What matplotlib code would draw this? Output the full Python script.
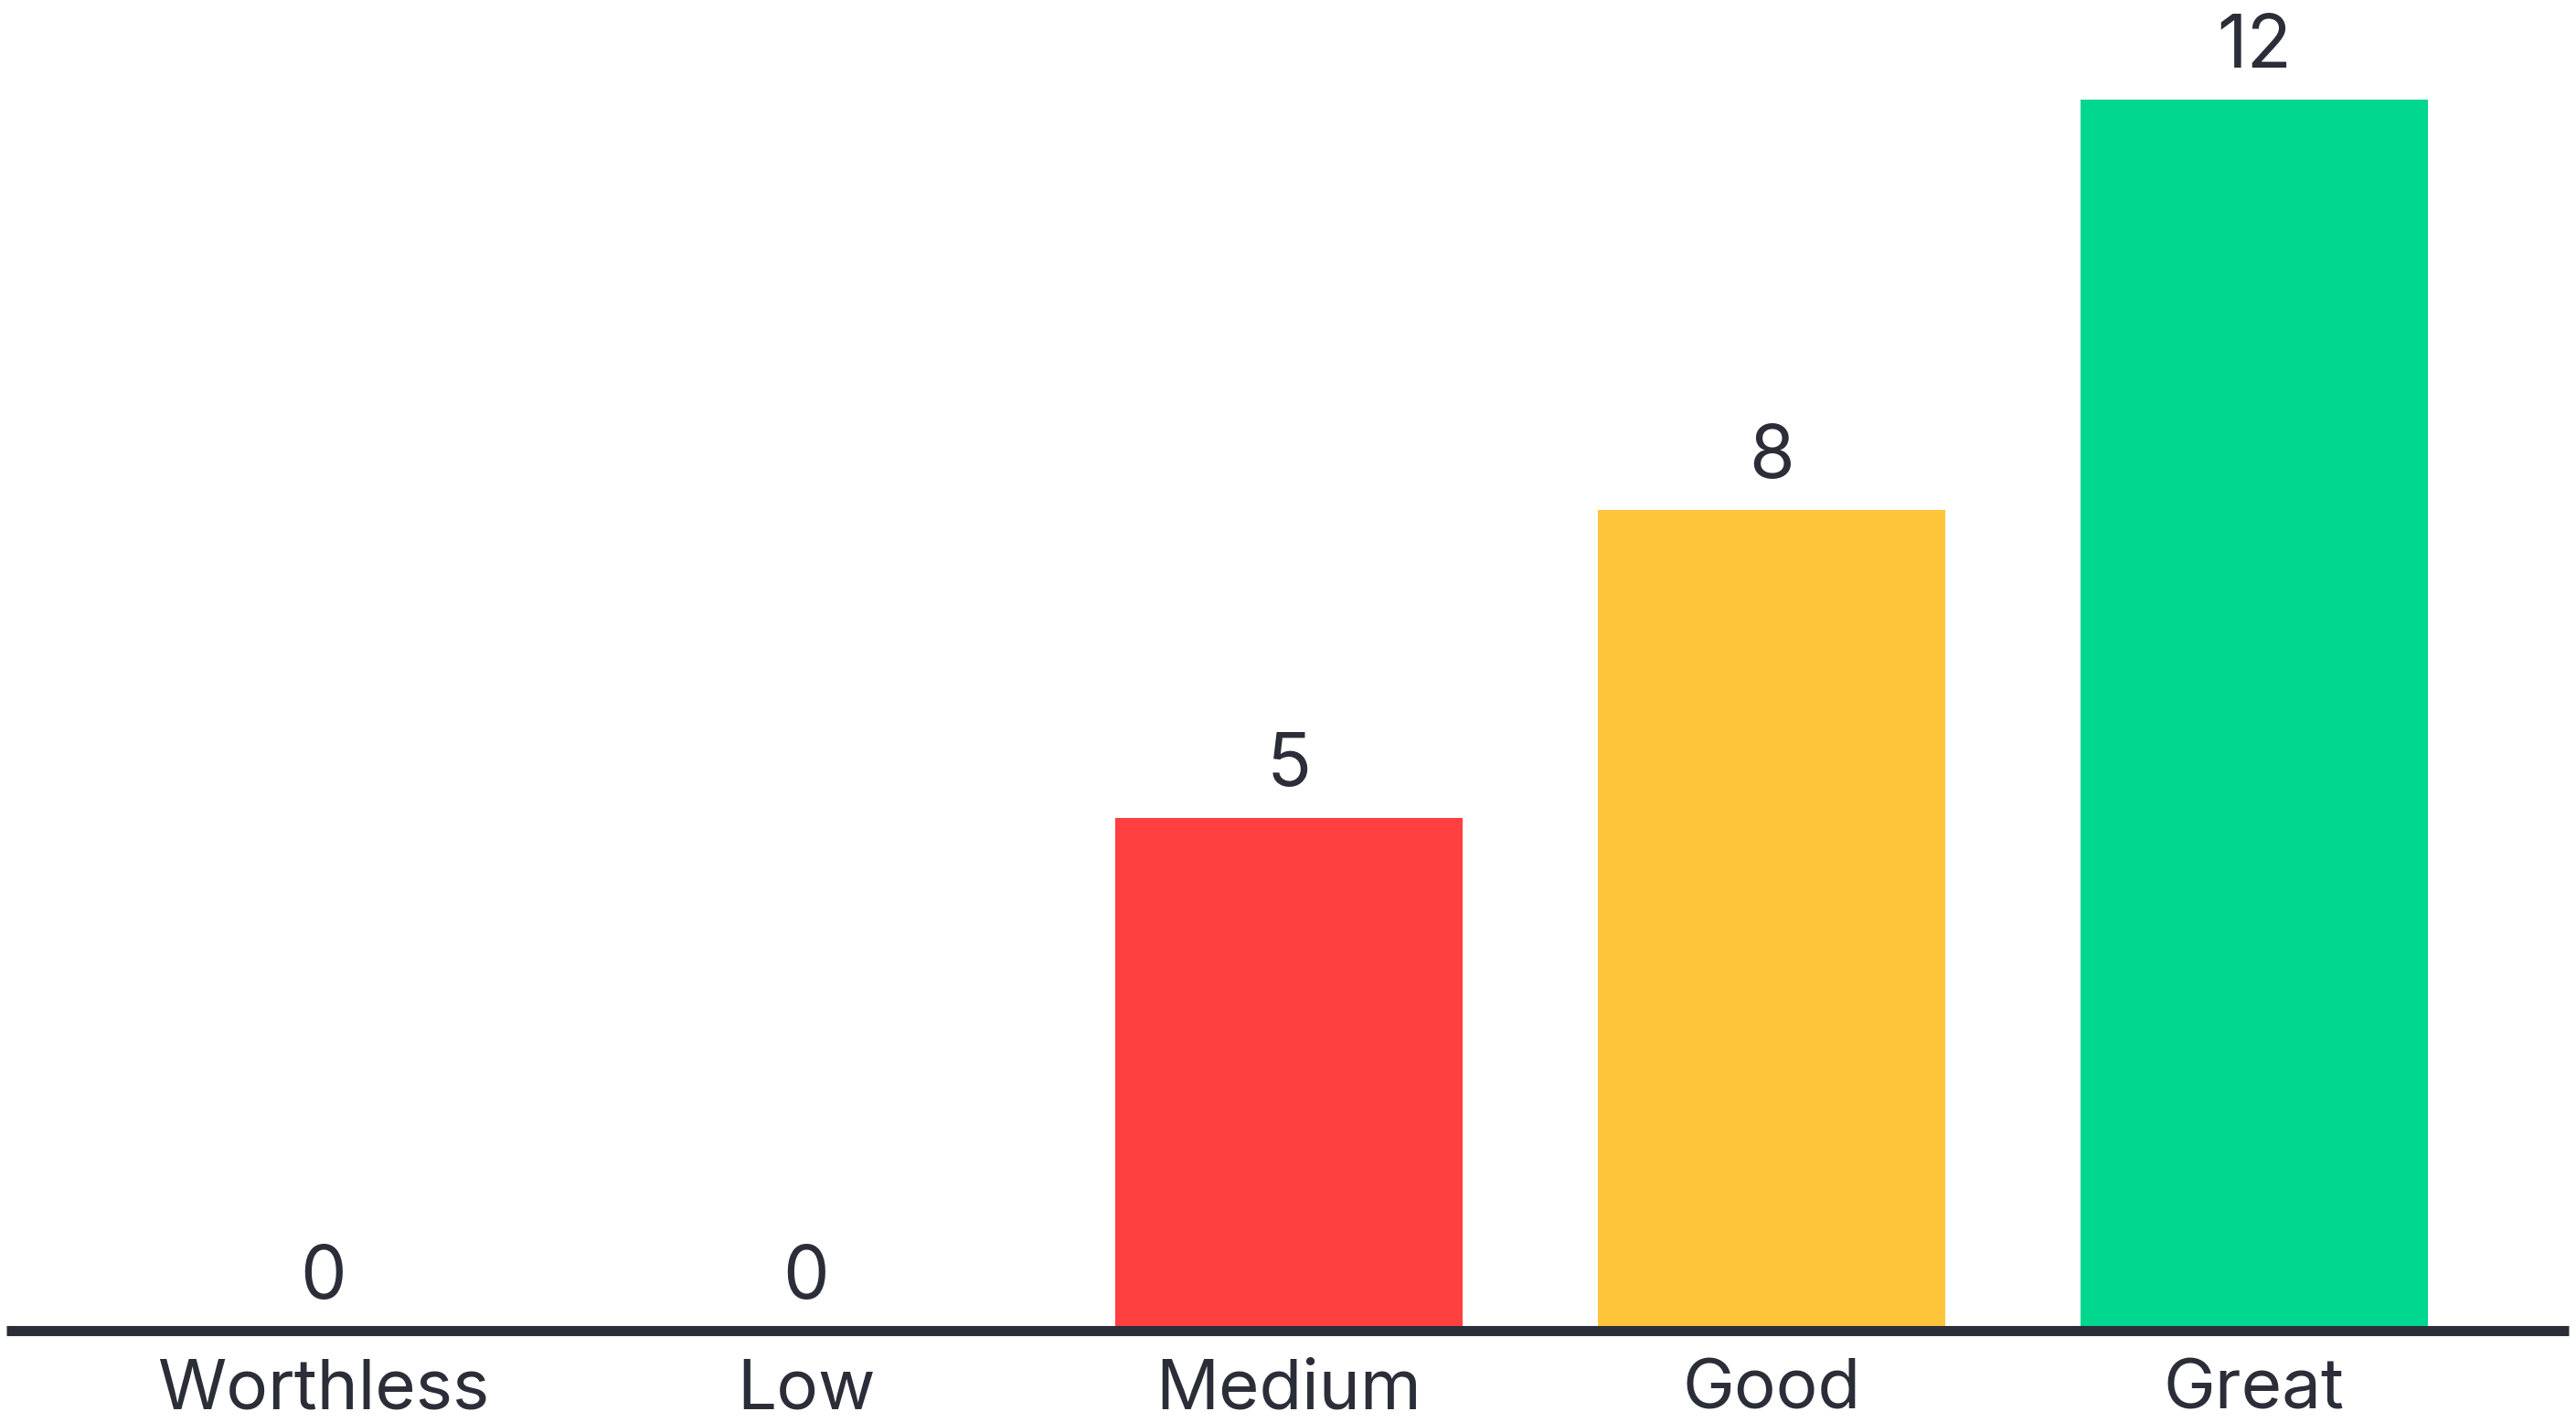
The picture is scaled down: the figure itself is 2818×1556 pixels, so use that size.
import matplotlib.pyplot as plt
import numpy as np

plt.rcParams['font.family'] = ['Inter', 'DejaVu Sans']

categories = ["Worthless", "Low", "Medium", "Good", "Great"]
counts = [0, 0, 5, 8, 12]
bar_colors = ["#FF4040", "#FF4040", "#FF4040", "#FFC53A", "#02D78F"]
text_color = "#2B2E38"

W, H = 2818, 1556
fig = plt.figure(figsize=(W / 100, H / 100), dpi=100)
# axes spans exactly the length of the baseline
ax = fig.add_axes([7 / W, 100 / H, 2803 / W, 1456 / H])

x = np.arange(len(categories))
bars = ax.bar(x, counts, width=0.72, color=bar_colors, zorder=2)

for rect, val in zip(bars, counts):
    ax.annotate(str(val), (rect.get_x() + rect.get_width() / 2, rect.get_height()),
                xytext=(0, 25), textcoords='offset points',
                ha='center', va='baseline', fontsize=58, color=text_color)

ax.set_xlim(-0.657, 4.652)
ax.set_ylim(0, 12.97)
ax.set_xticks(x)
ax.set_xticklabels(categories, fontsize=55, color=text_color)
ax.tick_params(axis='x', length=0, pad=22)
ax.set_yticks([])

for side in ['top', 'right', 'left']:
    ax.spines[side].set_visible(False)
ax.spines['bottom'].set_linewidth(8)
ax.spines['bottom'].set_color(text_color)
ax.spines['bottom'].set_zorder(3)
ax.spines['bottom'].set_capstyle('butt')

fig.savefig('out.png', dpi=100, facecolor='white')
